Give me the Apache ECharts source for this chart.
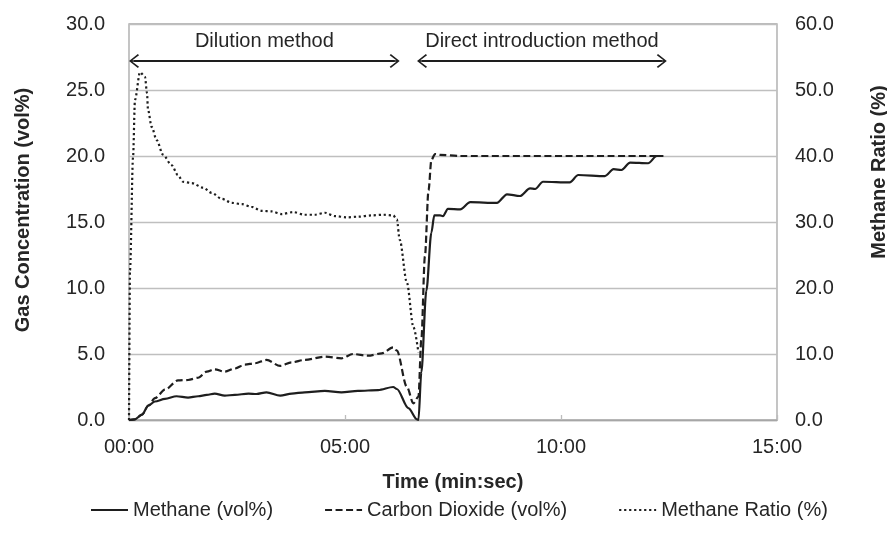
<!DOCTYPE html>
<html>
<head>
<meta charset="utf-8">
<script src="https://cdn.jsdelivr.net/npm/echarts@6/dist/echarts.min.js"></script>
<style>html,body{margin:0;padding:0;background:#fff;overflow:hidden;}#c{width:887px;height:538px;}</style>
</head>
<body>
<div id="c"></div>
<script>
// time in seconds
var xTicks = ['00:00', '05:00', '10:00', '15:00'];
var methaneT = [0, 8, 18, 27, 36, 50, 66, 82, 96, 108, 119, 133, 147, 166, 177, 191, 210, 226, 244, 272, 295, 318, 346, 367, 372, 388, 400, 402, 406, 413, 420, 424, 432, 436, 443, 460, 474, 511, 525, 543, 557, 564, 575, 612, 624, 661, 673, 684, 696, 721, 733, 742];
var methaneV = [0, 0.05, 0.4, 1.1, 1.4, 1.6, 1.8, 1.7, 1.8, 1.9, 2.0, 1.85, 1.9, 2.0, 1.97, 2.1, 1.85, 2.0, 2.1, 2.2, 2.1, 2.2, 2.27, 2.5, 2.35, 0.9, 0.05, 0, 3.6, 9.8, 14.2, 15.5, 15.5, 15.45, 16.0, 15.95, 16.5, 16.45, 17.1, 16.97, 17.55, 17.5, 18.05, 18.0, 18.56, 18.48, 19.0, 18.94, 19.5, 19.45, 20.0, 20.0];
var co2T = [0, 8, 18, 27, 36, 50, 68, 82, 96, 108, 119, 133, 147, 161, 175, 191, 210, 226, 244, 272, 295, 311, 332, 351, 367, 372, 386, 395, 402, 406, 411, 416, 420, 425, 432, 460, 742];
var co2V = [0, 0.05, 0.4, 1.1, 1.65, 2.3, 3.0, 3.03, 3.2, 3.66, 3.84, 3.66, 3.9, 4.2, 4.3, 4.55, 4.1, 4.37, 4.55, 4.8, 4.67, 5.0, 4.87, 5.05, 5.5, 5.25, 2.5, 1.26, 1.77, 6.06, 12.4, 17.4, 19.7, 20.15, 20.08, 20.0, 20.0];
var ratioT = [0, 1.4, 5.6, 8.3, 15.3, 22.2, 25, 26.4, 31.5, 38.5, 47.2, 59.3, 68, 75, 87, 103, 115, 129, 143, 157, 170, 184, 198, 212, 228, 244, 258, 272, 286, 302, 318, 337, 353, 367, 372, 376, 386, 395, 402];
var ratioV = [0, 22.7, 39.8, 48.5, 52.7, 52, 49.5, 47, 44.4, 42.4, 40.2, 38.6, 37.1, 36.1, 35.9, 35.2, 34.4, 33.5, 32.9, 32.7, 32.3, 31.7, 31.6, 31.2, 31.5, 31.1, 31.1, 31.4, 30.9, 30.7, 30.8, 31.0, 31.1, 31.0, 30.4, 27.3, 20.8, 14.1, 10.2];
var seriesNames = ['Methane (vol%)', 'Carbon Dioxide (vol%)', 'Methane Ratio (%)'];
var arrowLabels = ['Dilution method', 'Direct introduction method'];
var arrowT = [[7, 369], [407, 740]];
var arrowY = 27.2;

function zip(a, b) { return a.map(function (t, i) { return [t, b[i]]; }); }
var ink = '#1e1e1e';
var txt = '#262626';
var chev = 'path://M7,0 L14,9 L12.7,10.2 L7.8,3.4 L7.8,10.2 L6.2,10.2 L6.2,3.4 L1.3,10.2 L0,9 Z';
var FONT = 'Liberation Sans, Arial, sans-serif';
var titleStyle = { fontSize: 20, fontWeight: 'bold', color: txt, fontFamily: FONT };

var chart = echarts.init(document.getElementById('c'), null, { renderer: 'canvas', width: 887, height: 538 });
chart.setOption({
  animation: false,
  textStyle: { fontFamily: FONT, color: txt },
  grid: { left: 129, top: 24, width: 648, height: 396, show: true, borderColor: '#a6a6a6', borderWidth: 1.3, containLabel: false, outerBoundsMode: 'none' },
  legend: {
    data: seriesNames, left: 85, top: 495, itemWidth: 37, itemHeight: 14, itemGap: 51,
    itemStyle: { opacity: 0 },
    textStyle: { fontSize: 20, color: txt, fontFamily: FONT }
  },
  xAxis: {
    type: 'value', min: 0, max: 900, interval: 300,
    name: 'Time (min:sec)', nameLocation: 'middle', nameGap: 52,
    nameTextStyle: titleStyle,
    axisLine: { show: true, lineStyle: { color: '#a6a6a6', width: 1.3 } },
    axisTick: { show: true, inside: true, length: 5, lineStyle: { color: '#bdbdbd', width: 1.3 } },
    axisLabel: { fontSize: 20, color: txt, margin: 17, formatter: function (v) { return xTicks[Math.round(v / 300)]; } },
    splitLine: { show: false }
  },
  yAxis: [{
    type: 'value', min: 0, max: 30, interval: 5,
    name: 'Gas Concentration (vol%)', nameLocation: 'middle', nameGap: 96,
    nameTextStyle: Object.assign({ padding: [0, 0, 0, 24] }, titleStyle),
    axisLine: { show: false }, axisTick: { show: false },
    axisLabel: { fontSize: 20, color: txt, margin: 24, formatter: function (v) { return v.toFixed(1); } },
    splitLine: { show: true, lineStyle: { color: '#bfbfbf', width: 1.3 } }
  }, {
    type: 'value', min: 0, max: 60, interval: 10,
    name: 'Methane Ratio (%)', nameLocation: 'middle', nameGap: 92, nameRotate: 90,
    nameTextStyle: Object.assign({ padding: [0, 0, 0, 100] }, titleStyle),
    axisLine: { show: false }, axisTick: { show: false },
    axisLabel: { fontSize: 20, color: txt, margin: 18, formatter: function (v) { return v.toFixed(1); } },
    splitLine: { show: false }
  }],
  series: [{
    name: seriesNames[0], type: 'line', data: zip(methaneT, methaneV), symbol: 'none',
    smooth: 0.3, smoothMonotone: 'x',
    lineStyle: { color: ink, width: 2.2, type: 'solid' }, itemStyle: { color: ink },
    markLine: {
      silent: true, symbol: [chev, chev], symbolSize: [14, 10],
      lineStyle: { color: ink, width: 2, type: 'solid' },
      label: { show: true, position: 'insideMiddleTop', distance: 9, formatter: '{b}', fontSize: 20, color: txt, fontFamily: FONT },
      data: arrowLabels.map(function (l, i) {
        return [{ name: l, coord: [arrowT[i][0], arrowY] }, { coord: [arrowT[i][1], arrowY] }];
      })
    }
  }, {
    name: seriesNames[1], type: 'line', data: zip(co2T, co2V), symbol: 'none',
    smooth: 0.3, smoothMonotone: 'x',
    lineStyle: { color: ink, width: 2.2, type: [7, 3.5] }, itemStyle: { color: ink }
  }, {
    name: seriesNames[2], type: 'line', yAxisIndex: 1, data: zip(ratioT, ratioV), symbol: 'none',
    smooth: 0.3, smoothMonotone: 'x',
    lineStyle: { color: ink, width: 2.2, type: [2.2, 2.8] }, itemStyle: { color: ink }
  }]
});
</script>
</body>
</html>
